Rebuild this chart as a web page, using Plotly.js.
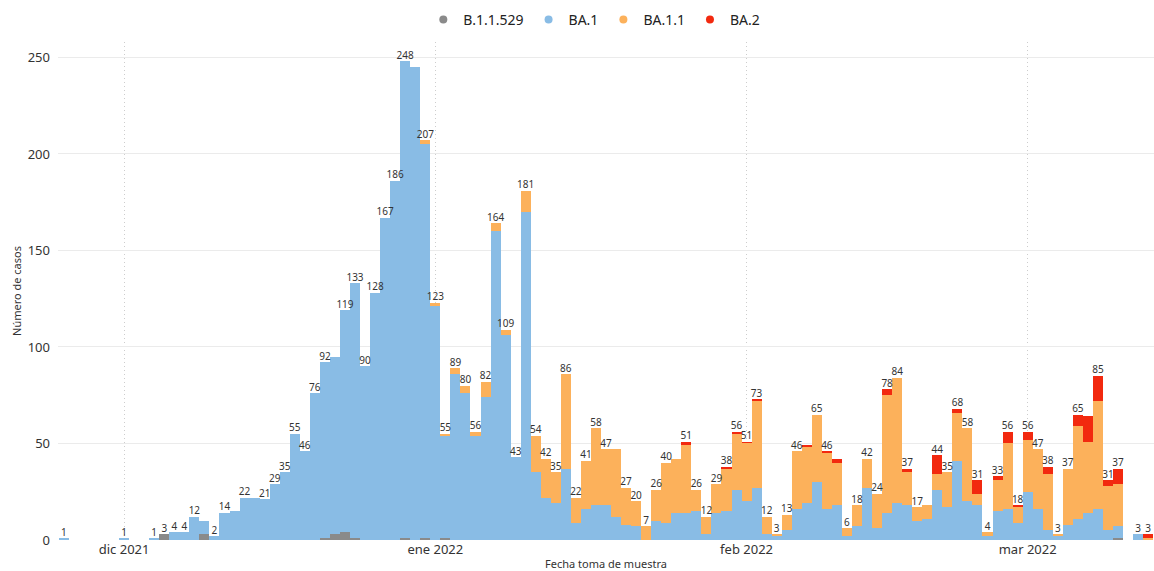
<!DOCTYPE html>
<html><head><meta charset="utf-8">
<script src="https://cdn.plot.ly/plotly-3.0.1.min.js"></script>
<style>html,body{margin:0;padding:0;background:#fff}#chart{width:1154px;height:571px}</style>
</head><body><div id="chart"></div>
<script>
const dates = [
 '2021-11-25','2021-12-01','2021-12-04','2021-12-05','2021-12-06','2021-12-07','2021-12-08','2021-12-09','2021-12-10','2021-12-11',
 '2021-12-12','2021-12-13','2021-12-14','2021-12-15','2021-12-16','2021-12-17','2021-12-18','2021-12-19','2021-12-20','2021-12-21',
 '2021-12-22','2021-12-23','2021-12-24','2021-12-25','2021-12-26','2021-12-27','2021-12-28','2021-12-29','2021-12-30','2021-12-31',
 '2022-01-01','2022-01-02','2022-01-03','2022-01-04','2022-01-05','2022-01-06','2022-01-07','2022-01-08','2022-01-09','2022-01-10',
 '2022-01-11','2022-01-12','2022-01-13','2022-01-14','2022-01-15','2022-01-16','2022-01-17','2022-01-18','2022-01-19','2022-01-20',
 '2022-01-21','2022-01-22','2022-01-23','2022-01-24','2022-01-25','2022-01-26','2022-01-27','2022-01-28','2022-01-29','2022-01-30',
 '2022-01-31',
 '2022-02-01','2022-02-02','2022-02-03','2022-02-04','2022-02-05','2022-02-06','2022-02-07','2022-02-08','2022-02-09','2022-02-10',
 '2022-02-11','2022-02-12','2022-02-13','2022-02-14','2022-02-15','2022-02-16','2022-02-17','2022-02-18','2022-02-19','2022-02-20',
 '2022-02-21','2022-02-22','2022-02-23','2022-02-24','2022-02-25','2022-02-26','2022-02-27','2022-02-28',
 '2022-03-01','2022-03-02','2022-03-03','2022-03-04','2022-03-05','2022-03-06','2022-03-07','2022-03-08','2022-03-09','2022-03-10',
 '2022-03-12','2022-03-13'
];
const b11529 = [
 0,0,0,3,0,0,0,3,0,0, 0,0,0,0,0,0,0,0,0,1, 3,4,1,0,0,0,0,1,0,1,
 0,1,0,0,0,0,0,0,0,0, 0,0,0,0,0,0,0,0,0,0, 0,0,0,0,0,0,0,0,0,0, 0,
 0,0,0,0,0,0,0,0,0,0, 0,0,0,0,0,0,0,0,0,0, 0,0,0,0,0,0,0,0,
 0,0,0,0,0,0,0,0,0,1, 0,0
];
const ba1 = [
 1,1,1,0,4,4,12,7,2,14, 15,22,22,21,29,35,55,46,76,91, 92,115,132,90,128,167,186,247,245,204,
 121,53,86,76,54,74,160,106,43,170, 35,22,19,37,9,16,18,18,12,8, 7,0,10,9,14,14,15,3,14,15, 26,
 20,27,3,2,5,16,19,30,16,18, 2,7,27,6,14,19,18,10,11,26, 17,41,20,18,2,15,16,9,
 25,16,5,2,8,11,14,16,5,6, 3,0
];
const ba11 = [
 0,0,0,0,0,0,0,0,0,0, 0,0,0,0,0,0,0,0,0,0, 0,0,0,0,0,0,0,0,0,2,
 2,1,3,4,2,8,4,3,0,11, 19,20,16,49,13,25,40,29,35,19, 13,7,16,31,28,35,11,9,15,22, 29,
 30,45,9,1,8,30,29,35,29,22, 4,11,15,18,61,65,17,7,7,8, 18,25,38,6,2,16,34,8,
 27,31,29,1,29,48,37,56,23,22, 0,1
];
const ba2 = [
 0,0,0,0,0,0,0,0,0,0, 0,0,0,0,0,0,0,0,0,0, 0,0,0,0,0,0,0,0,0,0,
 0,0,0,0,0,0,0,0,0,0, 0,0,0,0,0,0,0,0,0,0, 0,0,0,0,0,2,0,0,0,1, 1,
 1,1,0,0,0,0,1,0,1,2, 0,0,0,0,3,0,2,0,0,10, 0,2,0,7,0,2,6,1,
 4,0,4,0,0,6,13,13,3,8, 0,2
];
const showLabel = [
 1,1,1,1,1,1,1,0,1,1, 0,1,0,1,1,1,1,1,1,1, 0,1,1,1,1,1,1,1,0,1,
 1,1,1,1,1,1,1,1,1,1, 1,1,1,1,1,1,1,1,0,1, 1,1,1,1,0,1,1,1,1,1, 1,
 1,1,1,1,1,1,0,1,1,0, 1,1,1,1,1,1,1,1,0,1, 1,1,1,1,1,1,1,1,
 1,1,1,1,1,1,0,1,1,1, 1,1
];
const seriesNames = ['B.1.1.529','BA.1','BA.1.1','BA.2'];
const seriesColors = ['#8a8a8a','#89bce5','#fcb15b','#f2290f'];
const tickDates = ['2021-12-01','2022-01-01','2022-02-01','2022-03-01'];
const tickLabels = ['dic 2021','ene 2022','feb 2022','mar 2022'];

const series = [b11529, ba1, ba11, ba2];
const totals = dates.map((d,i)=>series.reduce((s,a)=>s+a[i],0));
const font = 'Noto Sans, Open Sans, sans-serif';

const traces = series.map((vals,k)=>({
  type:'bar', x:dates, y:vals, name:seriesNames[k],
  marker:{color:seriesColors[k], line:{width:0}},
  showlegend:false, hoverinfo:'x+y+name'
}));
traces.push({
  type:'scatter', mode:'text', x:dates, y:totals,
  text: totals.map((t,i)=>showLabel[i]?String(t):''),
  textposition:'top center', textfont:{size:10, color:'#333', family:font},
  cliponaxis:false, showlegend:false, hoverinfo:'skip'
});
seriesNames.forEach((n,k)=>traces.push({
  type:'scatter', mode:'markers', x:[null], y:[null], name:n,
  marker:{symbol:'circle', size:8, color:seriesColors[k]}, showlegend:true, hoverinfo:'skip'
}));

const layout = {
  width:1154, height:571,
  margin:{l:58, r:0, t:42, b:31},
  paper_bgcolor:'#fff', plot_bgcolor:'#fff',
  font:{family:font, color:'#333'},
  barmode:'stack', bargap:0,
  showlegend:true,
  legend:{orientation:'h', traceorder:'normal', x:0.515, xanchor:'center', xref:'container', y:0.965, yref:'container', yanchor:'middle',
    font:{size:14, color:'#222'}, itemwidth:30, tracegroupgap:0},
  xaxis:{type:'date', range:['2021-11-24 10:00','2022-03-13 14:00'],
    tickvals:tickDates, ticktext:tickLabels, ticks:'', showline:false, zeroline:false,
    showgrid:true, gridcolor:'#cdcdcd', griddash:'1px,3px', gridwidth:1,
    tickfont:{size:13, color:'#333'},
    title:{text:'Fecha toma de muestra', font:{size:11, color:'#333'}, standoff:4},
    automargin:false},
  yaxis:{range:[0,258], tickvals:[0,50,100,150,200,250], ticks:'', showline:false, zeroline:false,
    showgrid:true, gridcolor:'#ebebeb', gridwidth:1,
    tickfont:{size:13, color:'#333'}, ticklabelstandoff:7,
    title:{text:'Número de casos', font:{size:11, color:'#333'}, standoff:3},
    automargin:false}
};
Plotly.newPlot('chart', traces, layout, {displayModeBar:false, staticPlot:true});
</script>
</body></html>
